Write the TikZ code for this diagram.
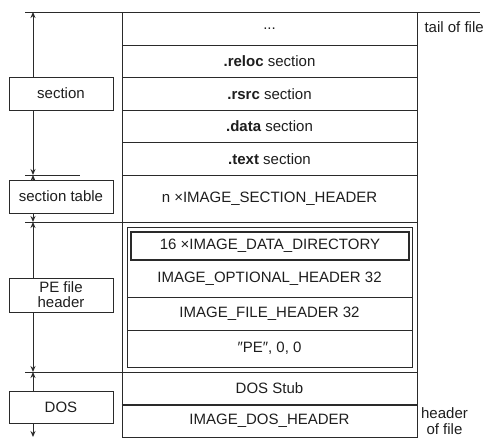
\documentclass[tikz,border=0pt]{standalone}
\usepackage{fontspec}
\setmainfont{Liberation Sans}
\usetikzlibrary{arrows.meta}
\definecolor{ink}{HTML}{2A2A2A}
\definecolor{txt}{HTML}{1E1E1E}
\begin{document}
\begin{tikzpicture}[x=1pt,y=-1pt,
  every node/.style={font=\fontsize{15}{16}\selectfont, text=txt},
  rowbox/.style={draw=ink, line width=1pt, minimum width=295pt, inner sep=0pt, fill=white},
  innerbox/.style={draw=ink, line width=1pt, minimum width=285pt, inner sep=0pt},
  labelbox/.style={draw=ink, line width=1pt, fill=white, minimum width=104pt,
                   minimum height=33pt, inner sep=0pt, align=center},
  dimline/.style={draw=ink, line width=1pt,
                  {Stealth[length=6pt,width=5pt]}-{Stealth[length=6pt,width=5pt]}},
  tick/.style={draw=ink, line width=1pt},
]
\useasboundingbox (0,0) rectangle (486,437);

% extent markers on the left
\coordinate (d0) at (33,12);
\coordinate (d1) at (33,175);
\coordinate (d2) at (33,222);
\coordinate (d3) at (33,372);
\coordinate (d4) at (33,437);
\draw[dimline] (d0) -- (d1);
\draw[dimline] (d1) -- (d2);
\draw[dimline] (d2) -- (d3);
\draw[dimline] (d3) -- (d4);

\coordinate (t0a) at (25,12);  \coordinate (t0b) at (480,12);
\coordinate (t1a) at (25,175); \coordinate (t1b) at (80,175);
\coordinate (t2a) at (25,222); \coordinate (t2b) at (122,222);
\coordinate (t3a) at (25,372); \coordinate (t3b) at (122,372);
\draw[tick] (t0a) -- (t0b);
\draw[tick] (t1a) -- (t1b);
\draw[tick] (t2a) -- (t2b);
\draw[tick] (t3a) -- (t3b);

% sections
\node[rowbox, minimum height=33pt]   (dots)  at (269.5,28.5)   {...};
\node[rowbox, minimum height=32.5pt] (reloc) at (269.5,61.25)  {\textbf{.reloc} section};
\node[rowbox, minimum height=32.5pt] (rsrc)  at (269.5,93.75)  {\textbf{.rsrc} section};
\node[rowbox, minimum height=32.5pt] (data)  at (269.5,126.25) {\textbf{.data} section};
\node[rowbox, minimum height=32.5pt] (text)  at (269.5,158.75) {\textbf{.text} section};

% section table
\node[rowbox, minimum height=47pt] (sechdr) at (269.5,198.5) {n ×IMAGE\_SECTION\_HEADER};

% PE header (double frame)
\node[rowbox, minimum height=150pt] (peouter) at (269.5,297) {};
\node[innerbox, minimum height=70pt] (optrow) at (269.5,262) {};
\node[innerbox, minimum height=33pt] (filerow) at (269.5,313.5) {IMAGE\_FILE\_HEADER 32};
\node[innerbox, minimum height=37pt] (sigrow) at (269.5,348.5) {\char"2033 PE\char"2033, 0, 0};
\node[draw=ink, line width=1.4pt, minimum width=278pt, minimum height=28pt, inner sep=0pt]
  (datadir) at (270,246) {16 ×IMAGE\_DATA\_DIRECTORY};
\node (optlabel) at (269.5,278.5) {IMAGE\_OPTIONAL\_HEADER 32};

% DOS part
\node[rowbox, minimum height=33pt] (dosstub) at (269.5,388.5) {DOS Stub};
\node[rowbox, minimum height=32pt] (doshdr)  at (269.5,421)   {IMAGE\_DOS\_HEADER};
\draw[draw=ink, line width=1.5pt] (doshdr.north west) -- (doshdr.north east);

% left labels
\node[labelbox] (lsec)  at (61,93.5)  {section};
\node[labelbox] (ltab)  at (61,196.5) {section table};
\node[labelbox, minimum height=34pt] (lpe) at (61,295) {PE file\\[-1pt]header};
\node[labelbox, minimum height=32pt] (ldos) at (61,407.5) {DOS};

% right labels
\node[anchor=base west] (tail) at (421,32) {tail of file};
\node[align=center, anchor=north] (head) at (444.5,404) {header\\of file};
\end{tikzpicture}
\end{document}
